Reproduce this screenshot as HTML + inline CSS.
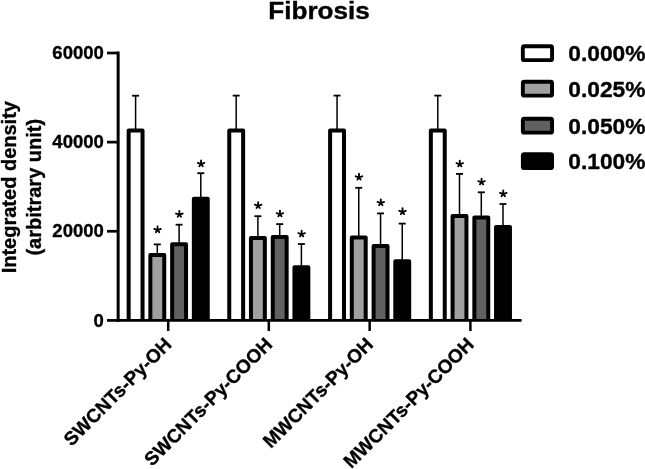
<!DOCTYPE html>
<html><head><meta charset="utf-8"><style>
html,body{margin:0;padding:0;background:#fff;overflow:hidden;}
svg{display:block;will-change:transform;}
text{font-family:"Liberation Sans",sans-serif;font-weight:bold;fill:#000;stroke:#000;stroke-width:0.35px;}
</style></head><body>
<svg width="645" height="469" viewBox="0 0 645 469">
<rect width="645" height="469" fill="#fff"/>
<g transform="translate(319,18.5) scale(1.088,1)"><text x="0" y="0" font-size="24" text-anchor="middle">Fibrosis</text></g>
<g transform="translate(16,187.2) rotate(-90)"><text x="0" y="0" font-size="20" text-anchor="middle">Integrated density</text></g>
<g transform="translate(40.8,187.2) rotate(-90)"><text x="0" y="0" font-size="20" text-anchor="middle">(arbitrary unit)</text></g>
<path d="M128.65 320.40V130.60H142.55V320.40" fill="#ffffff" stroke="#000" stroke-width="4.0" stroke-linejoin="round"/>
<line x1="135.60" y1="95.70" x2="135.60" y2="130.60" stroke="#000" stroke-width="1.5"/>
<line x1="132.10" y1="95.70" x2="139.10" y2="95.70" stroke="#000" stroke-width="1.8"/>
<path d="M150.35 320.40V255.10H164.25V320.40" fill="#a0a0a0" stroke="#000" stroke-width="4.0" stroke-linejoin="round"/>
<line x1="157.30" y1="244.40" x2="157.30" y2="255.10" stroke="#000" stroke-width="1.5"/>
<line x1="153.80" y1="244.40" x2="160.80" y2="244.40" stroke="#000" stroke-width="1.8"/>
<path d="M157.55 230.05L157.55 226.35M157.55 230.05L160.86 228.91M157.55 230.05L154.24 228.91M157.55 230.05L159.21 232.18M157.55 230.05L155.89 232.18" stroke="#000" stroke-width="1.85" stroke-linecap="round" fill="none"/>
<path d="M172.15 320.40V244.20H186.05V320.40" fill="#616161" stroke="#000" stroke-width="4.0" stroke-linejoin="round"/>
<line x1="179.10" y1="224.70" x2="179.10" y2="244.20" stroke="#000" stroke-width="1.5"/>
<line x1="175.60" y1="224.70" x2="182.60" y2="224.70" stroke="#000" stroke-width="1.8"/>
<path d="M179.35 214.65L179.35 210.95M179.35 214.65L182.66 213.51M179.35 214.65L176.04 213.51M179.35 214.65L181.01 216.78M179.35 214.65L177.69 216.78" stroke="#000" stroke-width="1.85" stroke-linecap="round" fill="none"/>
<path d="M193.85 320.40V198.70H207.75V320.40" fill="#000000" stroke="#000" stroke-width="4.0" stroke-linejoin="round"/>
<line x1="200.80" y1="173.20" x2="200.80" y2="198.70" stroke="#000" stroke-width="1.5"/>
<line x1="197.30" y1="173.20" x2="204.30" y2="173.20" stroke="#000" stroke-width="1.8"/>
<path d="M201.05 164.05L201.05 160.35M201.05 164.05L204.36 162.91M201.05 164.05L197.74 162.91M201.05 164.05L202.71 166.18M201.05 164.05L199.39 166.18" stroke="#000" stroke-width="1.85" stroke-linecap="round" fill="none"/>
<path d="M229.25 320.40V130.60H243.15V320.40" fill="#ffffff" stroke="#000" stroke-width="4.0" stroke-linejoin="round"/>
<line x1="236.20" y1="95.60" x2="236.20" y2="130.60" stroke="#000" stroke-width="1.5"/>
<line x1="232.70" y1="95.60" x2="239.70" y2="95.60" stroke="#000" stroke-width="1.8"/>
<path d="M250.95 320.40V237.90H264.85V320.40" fill="#a0a0a0" stroke="#000" stroke-width="4.0" stroke-linejoin="round"/>
<line x1="257.90" y1="216.20" x2="257.90" y2="237.90" stroke="#000" stroke-width="1.5"/>
<line x1="254.40" y1="216.20" x2="261.40" y2="216.20" stroke="#000" stroke-width="1.8"/>
<path d="M258.15 205.85L258.15 202.15M258.15 205.85L261.46 204.71M258.15 205.85L254.84 204.71M258.15 205.85L259.81 207.98M258.15 205.85L256.49 207.98" stroke="#000" stroke-width="1.85" stroke-linecap="round" fill="none"/>
<path d="M272.75 320.40V237.00H286.65V320.40" fill="#616161" stroke="#000" stroke-width="4.0" stroke-linejoin="round"/>
<line x1="279.70" y1="224.10" x2="279.70" y2="237.00" stroke="#000" stroke-width="1.5"/>
<line x1="276.20" y1="224.10" x2="283.20" y2="224.10" stroke="#000" stroke-width="1.8"/>
<path d="M279.95 214.25L279.95 210.55M279.95 214.25L283.26 213.11M279.95 214.25L276.64 213.11M279.95 214.25L281.61 216.38M279.95 214.25L278.29 216.38" stroke="#000" stroke-width="1.85" stroke-linecap="round" fill="none"/>
<path d="M294.45 320.40V267.30H308.35V320.40" fill="#000000" stroke="#000" stroke-width="4.0" stroke-linejoin="round"/>
<line x1="301.40" y1="244.00" x2="301.40" y2="267.30" stroke="#000" stroke-width="1.5"/>
<line x1="297.90" y1="244.00" x2="304.90" y2="244.00" stroke="#000" stroke-width="1.8"/>
<path d="M301.65 234.25L301.65 230.55M301.65 234.25L304.96 233.11M301.65 234.25L298.34 233.11M301.65 234.25L303.31 236.38M301.65 234.25L299.99 236.38" stroke="#000" stroke-width="1.85" stroke-linecap="round" fill="none"/>
<path d="M330.10 320.40V130.60H344.00V320.40" fill="#ffffff" stroke="#000" stroke-width="4.0" stroke-linejoin="round"/>
<line x1="337.05" y1="95.60" x2="337.05" y2="130.60" stroke="#000" stroke-width="1.5"/>
<line x1="333.55" y1="95.60" x2="340.55" y2="95.60" stroke="#000" stroke-width="1.8"/>
<path d="M351.80 320.40V237.60H365.70V320.40" fill="#a0a0a0" stroke="#000" stroke-width="4.0" stroke-linejoin="round"/>
<line x1="358.75" y1="187.80" x2="358.75" y2="237.60" stroke="#000" stroke-width="1.5"/>
<line x1="355.25" y1="187.80" x2="362.25" y2="187.80" stroke="#000" stroke-width="1.8"/>
<path d="M359.00 177.45L359.00 173.75M359.00 177.45L362.31 176.31M359.00 177.45L355.69 176.31M359.00 177.45L360.66 179.58M359.00 177.45L357.34 179.58" stroke="#000" stroke-width="1.85" stroke-linecap="round" fill="none"/>
<path d="M373.60 320.40V246.10H387.50V320.40" fill="#616161" stroke="#000" stroke-width="4.0" stroke-linejoin="round"/>
<line x1="380.55" y1="213.40" x2="380.55" y2="246.10" stroke="#000" stroke-width="1.5"/>
<line x1="377.05" y1="213.40" x2="384.05" y2="213.40" stroke="#000" stroke-width="1.8"/>
<path d="M380.80 203.05L380.80 199.35M380.80 203.05L384.11 201.91M380.80 203.05L377.49 201.91M380.80 203.05L382.46 205.18M380.80 203.05L379.14 205.18" stroke="#000" stroke-width="1.85" stroke-linecap="round" fill="none"/>
<path d="M395.30 320.40V261.20H409.20V320.40" fill="#000000" stroke="#000" stroke-width="4.0" stroke-linejoin="round"/>
<line x1="402.25" y1="223.60" x2="402.25" y2="261.20" stroke="#000" stroke-width="1.5"/>
<line x1="398.75" y1="223.60" x2="405.75" y2="223.60" stroke="#000" stroke-width="1.8"/>
<path d="M402.50 211.95L402.50 208.25M402.50 211.95L405.81 210.81M402.50 211.95L399.19 210.81M402.50 211.95L404.16 214.08M402.50 211.95L400.84 214.08" stroke="#000" stroke-width="1.85" stroke-linecap="round" fill="none"/>
<path d="M430.85 320.40V130.60H444.75V320.40" fill="#ffffff" stroke="#000" stroke-width="4.0" stroke-linejoin="round"/>
<line x1="437.80" y1="95.60" x2="437.80" y2="130.60" stroke="#000" stroke-width="1.5"/>
<line x1="434.30" y1="95.60" x2="441.30" y2="95.60" stroke="#000" stroke-width="1.8"/>
<path d="M452.55 320.40V216.00H466.45V320.40" fill="#a0a0a0" stroke="#000" stroke-width="4.0" stroke-linejoin="round"/>
<line x1="459.50" y1="173.90" x2="459.50" y2="216.00" stroke="#000" stroke-width="1.5"/>
<line x1="456.00" y1="173.90" x2="463.00" y2="173.90" stroke="#000" stroke-width="1.8"/>
<path d="M459.75 164.25L459.75 160.55M459.75 164.25L463.06 163.11M459.75 164.25L456.44 163.11M459.75 164.25L461.41 166.38M459.75 164.25L458.09 166.38" stroke="#000" stroke-width="1.85" stroke-linecap="round" fill="none"/>
<path d="M474.35 320.40V217.40H488.25V320.40" fill="#616161" stroke="#000" stroke-width="4.0" stroke-linejoin="round"/>
<line x1="481.30" y1="192.30" x2="481.30" y2="217.40" stroke="#000" stroke-width="1.5"/>
<line x1="477.80" y1="192.30" x2="484.80" y2="192.30" stroke="#000" stroke-width="1.8"/>
<path d="M481.55 182.25L481.55 178.55M481.55 182.25L484.86 181.11M481.55 182.25L478.24 181.11M481.55 182.25L483.21 184.38M481.55 182.25L479.89 184.38" stroke="#000" stroke-width="1.85" stroke-linecap="round" fill="none"/>
<path d="M496.05 320.40V227.10H509.95V320.40" fill="#000000" stroke="#000" stroke-width="4.0" stroke-linejoin="round"/>
<line x1="503.00" y1="204.00" x2="503.00" y2="227.10" stroke="#000" stroke-width="1.5"/>
<line x1="499.50" y1="204.00" x2="506.50" y2="204.00" stroke="#000" stroke-width="1.8"/>
<path d="M503.25 194.05L503.25 190.35M503.25 194.05L506.56 192.91M503.25 194.05L499.94 192.91M503.25 194.05L504.91 196.18M503.25 194.05L501.59 196.18" stroke="#000" stroke-width="1.85" stroke-linecap="round" fill="none"/>
<line x1="118.15" y1="51.6" x2="118.15" y2="321.8" stroke="#000" stroke-width="3"/>
<line x1="116.6" y1="320.4" x2="521.6" y2="320.4" stroke="#000" stroke-width="2.8"/>
<line x1="107" y1="53.00" x2="118" y2="53.00" stroke="#000" stroke-width="2.7"/>
<text x="103.8" y="58.50" font-size="18.5" text-anchor="end">60000</text>
<line x1="107" y1="142.13" x2="118" y2="142.13" stroke="#000" stroke-width="2.7"/>
<text x="103.8" y="147.93" font-size="18.5" text-anchor="end">40000</text>
<line x1="107" y1="231.27" x2="118" y2="231.27" stroke="#000" stroke-width="2.7"/>
<text x="103.8" y="237.27" font-size="18.5" text-anchor="end">20000</text>
<line x1="107" y1="320.40" x2="118" y2="320.40" stroke="#000" stroke-width="2.7"/>
<text x="103.8" y="326.90" font-size="18.5" text-anchor="end">0</text>
<line x1="168.2" y1="320.4" x2="168.2" y2="331" stroke="#000" stroke-width="2.5"/>
<g transform="translate(163.20,336) rotate(-45)"><text x="0" y="0" font-size="19" text-anchor="end" dominant-baseline="hanging">SWCNTs-Py-OH</text></g>
<line x1="268.8" y1="320.4" x2="268.8" y2="331" stroke="#000" stroke-width="2.5"/>
<g transform="translate(263.80,336) rotate(-45)"><text x="0" y="0" font-size="19" text-anchor="end" dominant-baseline="hanging">SWCNTs-Py-COOH</text></g>
<line x1="369.65" y1="320.4" x2="369.65" y2="331" stroke="#000" stroke-width="2.5"/>
<g transform="translate(364.65,336) rotate(-45)"><text x="0" y="0" font-size="19" text-anchor="end" dominant-baseline="hanging">MWCNTs-Py-OH</text></g>
<line x1="470.4" y1="320.4" x2="470.4" y2="331" stroke="#000" stroke-width="2.5"/>
<g transform="translate(465.40,336) rotate(-45)"><text x="0" y="0" font-size="19" text-anchor="end" dominant-baseline="hanging">MWCNTs-Py-COOH</text></g>
<rect x="522.85" y="46.25" width="29.20" height="13.90" rx="1.5" fill="#ffffff" stroke="#000" stroke-width="3.9"/>
<g transform="translate(568.3,61.20) scale(1.015,1)"><text x="0" y="0" font-size="22.4">0.000%</text></g>
<rect x="522.85" y="81.75" width="29.20" height="13.90" rx="1.5" fill="#a0a0a0" stroke="#000" stroke-width="3.9"/>
<g transform="translate(568.3,96.70) scale(1.015,1)"><text x="0" y="0" font-size="22.4">0.025%</text></g>
<rect x="522.85" y="118.75" width="29.20" height="13.90" rx="1.5" fill="#616161" stroke="#000" stroke-width="3.9"/>
<g transform="translate(568.3,133.70) scale(1.015,1)"><text x="0" y="0" font-size="22.4">0.050%</text></g>
<rect x="522.85" y="154.25" width="29.20" height="13.90" rx="1.5" fill="#000000" stroke="#000" stroke-width="3.9"/>
<g transform="translate(568.3,169.20) scale(1.015,1)"><text x="0" y="0" font-size="22.4">0.100%</text></g>
</svg></body></html>
